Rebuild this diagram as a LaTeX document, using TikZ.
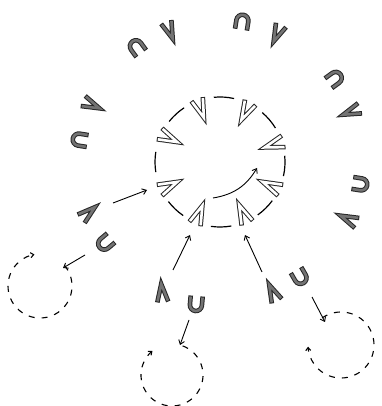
\documentclass[tikz,border=0pt]{standalone}
\usetikzlibrary{arrows.meta,calc}
\tikzset{
  glyph fill/.store in=\glyphfill, glyph fill=black!55,
  pics/letU/.style={code={
    \draw[line width=4.6pt, black!85] (-6,8) -- (-6,-1) arc[start angle=180, end angle=360, radius=6] -- (6,8);
    \draw[line width=2.6pt, \glyphfill, shorten <=1pt, shorten >=1pt] (-6,8) -- (-6,-1) arc[start angle=180, end angle=360, radius=6] -- (6,8);
  }},
  pics/letV/.style={code={
    \draw[line width=4.6pt, black!85, line join=miter] (-5.5,9) -- (0,-9) -- (5.5,9);
    \draw[line width=2.6pt, \glyphfill, line join=miter, shorten <=1pt, shorten >=1pt] (-5.5,9) -- (0,-9) -- (5.5,9);
  }},
  flow/.style={line width=0.9pt, -{Straight Barb[length=4pt,width=6pt]}},
  loopback/.style={line width=1.1pt, dash pattern=on 6pt off 7pt, -{Straight Barb[length=3pt,width=5pt]}},
}
\begin{document}
\begin{tikzpicture}[x=1pt, y=1pt]
        \useasboundingbox (0,0) rectangle (381,406);
        \coordinate (C) at (220,244);
        % outer ring of U and V
        \foreach \a in {171,126,81,36,-9}{
          \pic[rotate=\a+90] at ($(C)+(\a:142)$) {letU};
          \pic[rotate=\a-105] at ($(C)+(\a-15:141)$) {letV};
        }
        % dashed cycle with inward chevrons
        \foreach \a in {110,63,18,-25,-66,-112,-155,155}
          \pic[glyph fill=white, scale=1.1, rotate=\a-90] at ($(C)+(\a:57)$) {letV};
        \foreach \m in {86.5,40.5,-3.5,-45.5,-89,-133.5,180,132.5}
          \draw[line width=1.2pt] ($(C)+(\m-9:65)$) arc[start angle=\m-9, end angle=\m+9, radius=65];
        \coordinate (turnA) at (213,208);
        \coordinate (turnB) at (257,238);
        \draw[flow] (turnA) to[bend right=25] (turnB);
        % left pair
        \pic[rotate=130] at (88,193) {letV};
        \pic[rotate=-50] at (105,163) {letU};
        \coordinate (leftIn) at (113,203);
        \coordinate (leftTip) at (147,216);
        \coordinate (leftOut) at (85,151);
        \coordinate (leftLoop) at (63,138);
        \draw[flow] (leftIn) -- (leftTip);
        \draw[flow] (leftOut) -- (leftLoop);
        \draw[loopback] ($(40,120)+(40:32)$) arc[start angle=40, end angle=-260, radius=32];
        % middle pair
        \pic[rotate=185] at (162,113) {letV};
        \pic[rotate=-5] at (196,102) {letU};
        \coordinate (midIn) at (173,136);
        \coordinate (midTip) at (190,171);
        \coordinate (midOut) at (189,86);
        \coordinate (midLoop) at (180,61);
        \draw[flow] (midIn) -- (midTip);
        \draw[flow] (midOut) -- (midLoop);
        \draw[loopback] ($(172,31)+(70:31)$) arc[start angle=70, end angle=-231, radius=31];
        % right pair
        \pic[rotate=205] at (273,113) {letV};
        \pic[rotate=30] at (300,129) {letU};
        \coordinate (rightIn) at (262,134);
        \coordinate (rightTip) at (245,171);
        \coordinate (rightOut) at (312,109);
        \coordinate (rightLoop) at (325,84);
        \draw[flow] (rightIn) -- (rightTip);
        \draw[flow] (rightOut) -- (rightLoop);
        \draw[loopback] ($(341,61)+(125:33)$) arc[start angle=125, end angle=-177, radius=33];
\end{tikzpicture}
\end{document}
